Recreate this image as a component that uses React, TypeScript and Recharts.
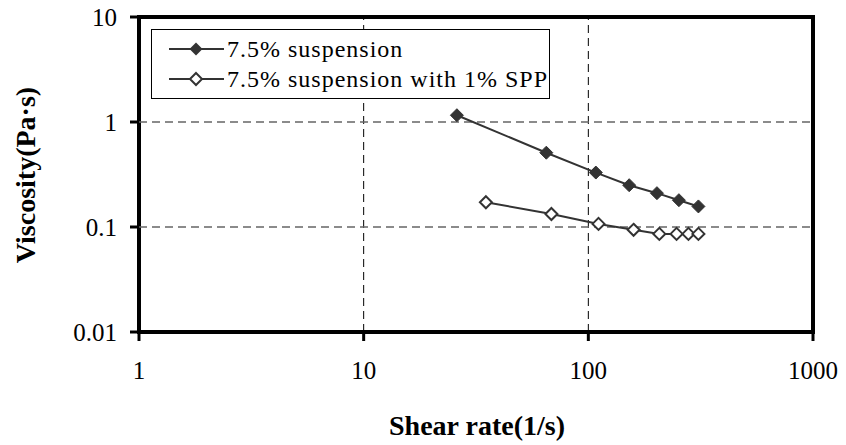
import React from 'react';
import {
  LineChart,
  Line,
  XAxis,
  YAxis,
  ReferenceLine,
  ReferenceArea,
  Legend,
} from 'recharts';

// shear rate (1/s) and viscosity (Pa·s)
const shearPlain = [26, 65, 108, 152, 202, 253, 309];
const viscPlain = [1.16, 0.51, 0.33, 0.25, 0.21, 0.18, 0.157];

const shearSpp = [35, 68.5, 111, 159, 207, 247, 279, 309];
const viscSpp = [0.172, 0.133, 0.107, 0.094, 0.086, 0.086, 0.086, 0.086];

const seriesNames = ['7.5% suspension', '7.5% suspension with 1% SPP'];
const xTicks = [1, 10, 100, 1000];
const yTicks = [0.01, 0.1, 1, 10];

const plainData = shearPlain.map((x, i) => ({ x, y: viscPlain[i] }));
const sppData = shearSpp.map((x, i) => ({ x, y: viscSpp[i] }));

const FONT = '"Liberation Serif", "Times New Roman", serif';
const INK = '#333';

const diamondPath = (cx: number, cy: number, r: number) =>
  `M${cx},${cy - r}L${cx + r},${cy}L${cx},${cy + r}L${cx - r},${cy}Z`;

const FilledDot = (props: any) => {
  const { cx, cy, index } = props;
  if (cx == null || cy == null) return null;
  return <path key={`f-${index}`} d={diamondPath(cx, cy, 6.5)} fill={INK} stroke={INK} strokeWidth={1} />;
};

const OpenDot = (props: any) => {
  const { cx, cy, index } = props;
  if (cx == null || cy == null) return null;
  return <path key={`o-${index}`} d={diamondPath(cx, cy, 6)} fill="#fff" stroke={INK} strokeWidth={2} />;
};

const LegendBox = () => (
  <div
    style={{
      width: 399,
      height: 70,
      boxSizing: 'border-box',
      border: '1px solid #000',
      background: '#fff',
      fontFamily: FONT,
      fontSize: 24,
      letterSpacing: 1,
      color: '#000',
      padding: '4px 0 0 16px',
    }}
  >
    {seriesNames.map((name, i) => (
      <div key={name} style={{ display: 'flex', alignItems: 'center', height: 30, whiteSpace: 'nowrap' }}>
        <svg width={58} height={20} style={{ marginRight: 1 }}>
          <line x1={1} y1={10} x2={56} y2={10} stroke={INK} strokeWidth={2} />
          {i === 0 ? (
            <path d={diamondPath(28, 10, 6.5)} fill={INK} />
          ) : (
            <path d={diamondPath(28, 10, 6)} fill="#fff" stroke={INK} strokeWidth={2} />
          )}
        </svg>
        <span>{name}</span>
      </div>
    ))}
  </div>
);

const YTitle = () => (
  <text
    x={25}
    y={175}
    transform="rotate(-90, 25, 175)"
    textAnchor="middle"
    dominantBaseline="central"
    fontFamily={FONT}
    fontSize={28}
    fontWeight="bold"
    fill="#000"
  >
    Viscosity(Pa·s)
  </text>
);

const XTitle = () => (
  <text
    x={477}
    y={425}
    textAnchor="middle"
    dominantBaseline="central"
    fontFamily={FONT}
    fontSize={28}
    fontWeight="bold"
    fill="#000"
  >
    Shear rate(1/s)
  </text>
);

const tickStyle = { fontFamily: FONT, fontSize: 25, fill: '#000' };

export default function App() {
  return (
    <div style={{ position: 'absolute', left: 0, top: 0, width: 846, height: 445, background: '#fff' }}>
      <LineChart width={846} height={445} margin={{ top: 17, right: 33, bottom: 0, left: 0 }}>
        <XAxis
          type="number"
          dataKey="x"
          scale="log"
          domain={[1, 1000]}
          ticks={xTicks}
          allowDataOverflow
          height={113}
          axisLine={false}
          tickSize={9}
          tickMargin={20}
          tickLine={{ stroke: '#000', strokeWidth: 3 }}
          tick={tickStyle}
          label={{ content: () => <XTitle /> }}
        />
        <YAxis
          type="number"
          dataKey="y"
          scale="log"
          domain={[0.01, 10]}
          ticks={yTicks}
          allowDataOverflow
          width={139}
          axisLine={false}
          tickSize={9}
          tickMargin={13}
          tickLine={{ stroke: '#000', strokeWidth: 3 }}
          tick={tickStyle}
          tickFormatter={(v: number) => String(v)}
          label={{ content: () => <YTitle /> }}
        />
        <ReferenceLine x={10} stroke="#000" strokeWidth={1} strokeDasharray="8 5" />
        <ReferenceLine x={100} stroke="#000" strokeWidth={1} strokeDasharray="8 5" />
        <ReferenceLine y={1} stroke="#666" strokeWidth={1.5} strokeDasharray="8 5" />
        <ReferenceLine y={0.1} stroke="#666" strokeWidth={1.5} strokeDasharray="8 5" />
        <ReferenceArea x1={1} x2={1000} y1={0.01} y2={10} fill="none" stroke="#000" strokeWidth={4} />
        <Line
          data={plainData}
          dataKey="y"
          name={seriesNames[0]}
          stroke={INK}
          strokeWidth={2}
          dot={FilledDot}
          isAnimationActive={false}
        />
        <Line
          data={sppData}
          dataKey="y"
          name={seriesNames[1]}
          stroke={INK}
          strokeWidth={2}
          dot={OpenDot}
          isAnimationActive={false}
        />
        <Legend
          layout="vertical"
          align="center"
          verticalAlign="middle"
          content={() => <LegendBox />}
          wrapperStyle={{ left: 151, top: 29, width: 399 }}
        />
      </LineChart>
    </div>
  );
}
